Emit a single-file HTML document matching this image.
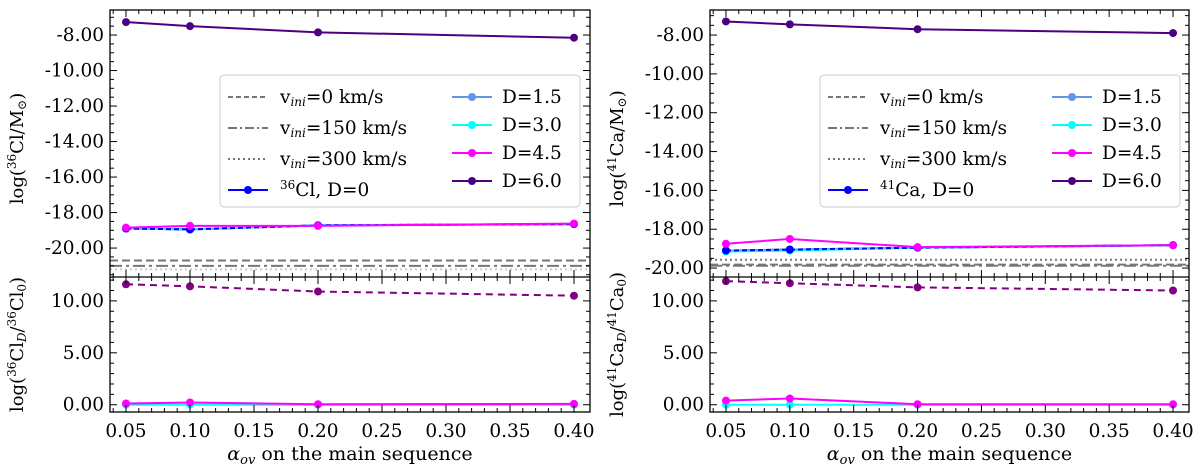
<!DOCTYPE html>
<html><head><meta charset="utf-8">
<style>
html,body{margin:0;padding:0;background:#fff;}
svg{display:block;font-family:"DejaVu Serif","Liberation Serif",serif;}
</style></head>
<body>
<svg id="fig" width="1200" height="468" viewBox="0 0 1200 468" xmlns="http://www.w3.org/2000/svg"></svg>
<script>
const alphaOv = [0.05, 0.10, 0.20, 0.40];
const xTicks = [0.05, 0.10, 0.15, 0.20, 0.25, 0.30, 0.35, 0.40];
// Left panel (36Cl)
const clD0 = [-18.9, -18.95, -18.72, -18.65];
const clD15 = [-18.9, -18.95, -18.72, -18.65];
const clD30 = [-18.9, -18.95, -18.72, -18.65];
const clD45 = [-18.85, -18.75, -18.75, -18.62];
const clD60 = [-7.27, -7.5, -7.85, -8.15];
const clV0 = -20.7, clV150 = -21.0, clV300 = -21.2;
const clRatio60 = [11.6, 11.4, 10.9, 10.5];
const clRatio45 = [0.12, 0.22, 0.05, 0.08];
const clRatio30 = [0.0, 0.0, 0.0, 0.0];
// Right panel (41Ca)
const caD0 = [-19.1, -19.05, -18.95, -18.82];
const caD15 = [-19.1, -19.05, -18.95, -18.82];
const caD30 = [-19.15, -19.1, -18.95, -18.82];
const caD45 = [-18.75, -18.5, -18.92, -18.82];
const caD60 = [-7.3, -7.45, -7.7, -7.9];
const caV0 = -19.82, caV150 = -19.88, caV300 = -19.57;
const caRatio60 = [11.9, 11.7, 11.3, 11.0];
const caRatio45 = [0.4, 0.6, 0.05, 0.05];
const caRatio30 = [0.0, 0.0, 0.0, 0.0];
const topTicksY = [-8, -10, -12, -14, -16, -18, -20];
const botTicksY = [0, 5, 10];

const NS="http://www.w3.org/2000/svg";
const fig=document.getElementById('fig');
function mk(tag,attrs,parent){const e=document.createElementNS(NS,tag);for(const k in attrs)e.setAttribute(k,attrs[k]);(parent||fig).appendChild(e);return e;}

function panel(px0,px1,top,yTopDom,botTickVals,name,series,hlines,ratio,labelTop,labelBot,isoSup,isoName){
  const xDom=[0.0375,0.4125];
  const fx=v=>px0+(v-xDom[0])/(xDom[1]-xDom[0])*(px1-px0);
  const tY0=10,tY1=277,bY0=277,bY1=412;
  const fyT=v=>tY0+(yTopDom[1]-v)/(yTopDom[1]-yTopDom[0])*(tY1-tY0);
  const bDom=[-0.7,12.3];
  const fyB=v=>bY0+(bDom[1]-v)/(bDom[1]-bDom[0])*(bY1-bY0);
  const g=mk('g',{});
  
  
  hlines.forEach(h=>{
    const l=mk('line',{x1:px0,x2:px1,y1:fyT(h.v),y2:fyT(h.v),stroke:h.c||'#777','stroke-width':2,'stroke-dasharray':h.d},g);
    
    
  });
  series.forEach(s=>{
    const pts=alphaOv.map((a,i)=>fx(a)+','+fyT(s.vals[i])).join(' ');
    const pl=mk('polyline',{points:pts,fill:'none',stroke:s.c,'stroke-width':2,'stroke-dasharray':s.d||''},g);
    
    
    alphaOv.forEach((a,i)=>{
      const c=mk('circle',{cx:fx(a),cy:fyT(s.vals[i]),r:4,fill:s.c},g);
      
      
    });
  });
  ratio.forEach(s=>{
    const pts=alphaOv.map((a,i)=>fx(a)+','+fyB(s.vals[i])).join(' ');
    const pl=mk('polyline',{points:pts,fill:'none',stroke:s.c,'stroke-width':2,'stroke-dasharray':s.d||''},g);
    
    
    alphaOv.forEach((a,i)=>{
      const c=mk('circle',{cx:fx(a),cy:fyB(s.vals[i]),r:4,fill:s.c},g);
      
      
    });
  });
  mk('rect',{x:px0,y:tY0,width:px1-px0,height:bY1-tY0,fill:'none',stroke:'#000','stroke-width':1.3},g);
  mk('line',{x1:px0,x2:px1,y1:bY0,y2:bY0,stroke:'#000','stroke-width':1.3},g);
  for(let v=0.04;v<=0.41;v+=0.01){
    const vv=Math.round(v*100)/100;
    const major=Math.abs((vv*100)%5)<1e-6;
    const L=major?7:4;const x=fx(vv);
    [[tY0,1],[tY1,-1],[bY0,1],[bY1,-1]].forEach(([y,d])=>mk('line',{x1:x,x2:x,y1:y,y2:y+d*L,stroke:'#000','stroke-width':1},g));
  }
  xTicks.forEach(v=>{
    const t=mk('text',{x:fx(v),y:437,'font-size':18.5,'text-anchor':'middle',fill:'#000'},g);
    t.textContent=v.toFixed(2);
    
    
  });
  for(let v=-6;v>=-22;v-=0.5){
    const y=fyT(v); if(y<tY0+1||y>tY1-1)continue;
    const major=v%2===0;const L=major?7:4;
    mk('line',{x1:px0,x2:px0+L,y1:y,y2:y,stroke:'#000'},g);
    mk('line',{x1:px1,x2:px1-L,y1:y,y2:y,stroke:'#000'},g);
  }
  topTicksY.forEach(v=>{
    const y=fyT(v); if(y>tY1+8)return;
    const t=mk('text',{x:px0-6,y:y+6,'font-size':18.5,'text-anchor':'end'},g);
    t.textContent=v.toFixed(2);
    
    
  });
  for(let v=0;v<=12;v+=1){
    const y=fyB(v);const major=v%5===0;const L=major?7:4;
    mk('line',{x1:px0,x2:px0+L,y1:y,y2:y,stroke:'#000'},g);
    mk('line',{x1:px1,x2:px1-L,y1:y,y2:y,stroke:'#000'},g);
  }
  botTickVals.forEach(v=>{
    const t=mk('text',{x:px0-6,y:fyB(v)+6,'font-size':18.5,'text-anchor':'end'},g);
    t.textContent=v.toFixed(2);
    
    
  });
  const xl=mk('text',{x:(px0+px1)/2,y:460,'font-size':19,'text-anchor':'middle'},g);
  xl.innerHTML='<tspan font-style="italic">α</tspan><tspan font-size="13" dy="4" font-style="italic">ov</tspan><tspan dy="-4"> on the main sequence</tspan>';
  
  
  const yl=mk('text',{x:0,y:0,'font-size':18,'text-anchor':'middle',transform:`translate(${px0-87},${(tY0+tY1)/2+5}) rotate(-90)`},g);
  yl.innerHTML=labelTop;
  
  
  const yb=mk('text',{x:0,y:0,'font-size':18,'text-anchor':'middle',transform:`translate(${px0-87},${(bY0+bY1)/2}) rotate(-90)`},g);
  yb.innerHTML=labelBot;
  
  
  const lx=px0+110, ly=75;
  const lg=mk('g',{},g);
  
  
  mk('rect',{x:lx,y:ly,width:360,height:132,rx:4,fill:'#fff','fill-opacity':0.85,stroke:'#ccc'},lg);
  const left=[['v','0','5 3',null],['v','150','9 3 2 3',null],['v','300','2 3',null],['iso','','', '#0000ff']];
  left.forEach((e,i)=>{
    const y=ly+22+i*31;
    if(e[0]==='v'){
      mk('line',{x1:lx+8,x2:lx+48,y1:y,y2:y,stroke:'#777','stroke-width':2,'stroke-dasharray':e[2]},lg);
      const t=mk('text',{x:lx+60,y:y+6,'font-size':18.5},lg);
      t.innerHTML='v<tspan font-size="12" dy="3" font-style="italic">ini</tspan><tspan dy="-3">='+e[1]+' km/s</tspan>';
      
      
    } else {
      mk('line',{x1:lx+8,x2:lx+48,y1:y,y2:y,stroke:e[3],'stroke-width':2},lg);
      mk('circle',{cx:lx+28,cy:y,r:4,fill:e[3]},lg);
      const t=mk('text',{x:lx+60,y:y+6,'font-size':18.5},lg);
      t.innerHTML='<tspan font-size="12" dy="-7">'+isoSup+'</tspan><tspan dy="7">'+isoName+', D=0</tspan>';
      
      
    }
  });
  const right=[['1.5','#6495ed'],['3.0','#00ffff'],['4.5','#ff00ff'],['6.0','#4b0082']];
  right.forEach((e,i)=>{
    const y=ly+22+i*28;
    mk('line',{x1:lx+232,x2:lx+272,y1:y,y2:y,stroke:e[1],'stroke-width':2},lg);
    mk('circle',{cx:lx+252,cy:y,r:4,fill:e[1]},lg);
    const t=mk('text',{x:lx+282,y:y+6,'font-size':18.5},lg);
    t.textContent='D='+e[0];
    
    
  });
}

panel(110,590,10,[-21.63,-6.59],botTicksY,'cl36',
 [{n:'d0-line',vals:clD0,c:'#0000ff'},{n:'d15-line',vals:clD15,c:'#6495ed'},{n:'d30-line',vals:clD30,c:'#00ffff'},{n:'d0-dashed-line',vals:clD0,c:'#0000ff',d:'5 3'},{n:'d45-line',vals:clD45,c:'#ff00ff'},{n:'d60-line',vals:clD60,c:'#4b0082'}],
 [{n:'vini-0-line',v:clV0,d:'8 4'},{n:'vini-150-line',v:clV150,d:'12 4 3 4'},{n:'vini-300-line',v:clV300,d:'2 3',c:'#ccc'}],
 [{n:'ratio-d30-line',vals:clRatio30,c:'#00ffff'},{n:'ratio-d45-line',vals:clRatio45,c:'#ff00ff'},{n:'ratio-d60-line',vals:clRatio60,c:'#800080',d:'7 5'}],
 'log(<tspan font-size="12" dy="-7">36</tspan><tspan dy="7">Cl/M</tspan><tspan font-size="12" dy="3">⊙</tspan><tspan dy="-3">)</tspan>',
 'log(<tspan font-size="12" dy="-7">36</tspan><tspan dy="7">Cl</tspan><tspan font-size="12" dy="3" font-style="italic">D</tspan><tspan dy="-3">/</tspan><tspan font-size="12" dy="-7">36</tspan><tspan dy="7">Cl</tspan><tspan font-size="12" dy="3">0</tspan><tspan dy="-3">)</tspan>',
 '36','Cl');

panel(710,1189,10,[-20.46,-6.71],botTicksY,'ca41',
 [{n:'d0-line',vals:caD0,c:'#0000ff'},{n:'d15-line',vals:caD15,c:'#6495ed'},{n:'d30-line',vals:caD30,c:'#00ffff'},{n:'d0-dashed-line',vals:caD0,c:'#0000ff',d:'5 3'},{n:'d45-line',vals:caD45,c:'#ff00ff'},{n:'d60-line',vals:caD60,c:'#4b0082'}],
 [{n:'vini-300-line',v:caV300,d:'2 3'},{n:'vini-0-line',v:caV0,d:'8 4'},{n:'vini-150-line',v:caV150,d:'12 4 3 4'}],
 [{n:'ratio-d30-line',vals:caRatio30,c:'#00ffff'},{n:'ratio-d45-line',vals:caRatio45,c:'#ff00ff'},{n:'ratio-d60-line',vals:caRatio60,c:'#800080',d:'7 5'}],
 'log(<tspan font-size="12" dy="-7">41</tspan><tspan dy="7">Ca/M</tspan><tspan font-size="12" dy="3">⊙</tspan><tspan dy="-3">)</tspan>',
 'log(<tspan font-size="12" dy="-7">41</tspan><tspan dy="7">Ca</tspan><tspan font-size="12" dy="3" font-style="italic">D</tspan><tspan dy="-3">/</tspan><tspan font-size="12" dy="-7">41</tspan><tspan dy="7">Ca</tspan><tspan font-size="12" dy="3">0</tspan><tspan dy="-3">)</tspan>',
 '41','Ca');
</script>
</body></html>
